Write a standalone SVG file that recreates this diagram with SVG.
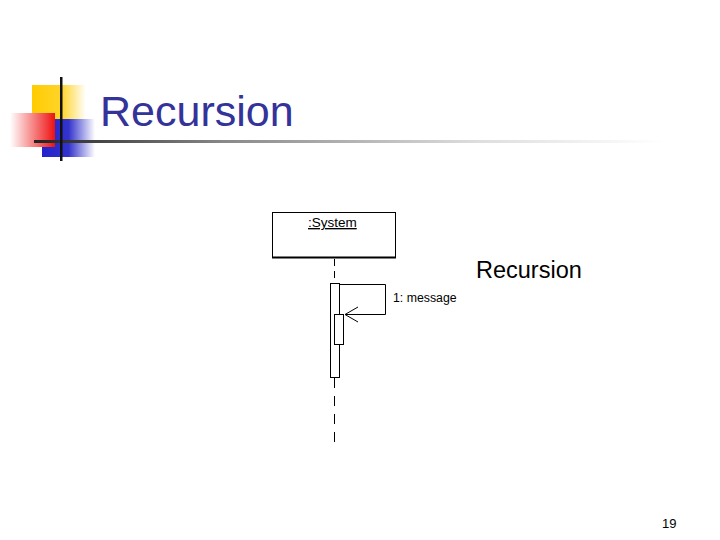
<svg xmlns="http://www.w3.org/2000/svg" width="720" height="540" viewBox="0 0 720 540">
<defs>
<linearGradient id="gy" x1="0" x2="1" y1="0" y2="0"><stop offset="0" stop-color="#ffcc00"/><stop offset="0.55" stop-color="#ffd42a"/><stop offset="1" stop-color="#ffffff"/></linearGradient>
<linearGradient id="gr" x1="0" x2="1" y1="0" y2="0"><stop offset="0" stop-color="#ffffff"/><stop offset="1" stop-color="#ee1111"/></linearGradient>
<linearGradient id="gb" x1="0" x2="1" y1="0" y2="0"><stop offset="0" stop-color="#2222cc"/><stop offset="0.5" stop-color="#3333cc"/><stop offset="1" stop-color="#ffffff"/></linearGradient>
<linearGradient id="gl" x1="0" x2="1" y1="0" y2="0"><stop offset="0" stop-color="#222222"/><stop offset="0.3" stop-color="#888888"/><stop offset="0.7" stop-color="#dddddd"/><stop offset="1" stop-color="#ffffff"/></linearGradient>
<marker id="open" markerWidth="16" markerHeight="18" refX="14" refY="9" orient="auto" markerUnits="userSpaceOnUse"><path d="M1,1.5 L14,9 L1,16.5" fill="none" stroke="#000" stroke-width="1"/></marker>
<style>
.t{font-family:"Liberation Sans",Arial,sans-serif}
.box{fill:#fff;stroke:#000;stroke-width:1}
</style>
</defs>
<g id="decor">
<rect x="32" y="85" width="54" height="36" fill="url(#gy)"/>
<rect x="42" y="119" width="53" height="38" fill="url(#gb)"/>
<rect x="10" y="113" width="45" height="34" fill="url(#gr)"/>
<rect x="34" y="140" width="630" height="3" fill="url(#gl)"/>
<rect x="60" y="77" width="2.5" height="84" fill="#111"/>
</g>
<text class="t" x="100" y="126" font-size="43" fill="#333399">Recursion</text>
<g id="system">
<rect class="box" x="272.5" y="212.5" width="123" height="45"/>
<line x1="272" y1="257.5" x2="396" y2="257.5" stroke="#000" stroke-width="2"/>
<text class="t" x="308" y="227" font-size="13.5" text-decoration="underline">:System</text>
</g>
<g id="connectors">
<line x1="334.5" y1="259" x2="334.5" y2="283" stroke="#000" stroke-dasharray="7,5"/>
<line x1="334.5" y1="378" x2="334.5" y2="442" stroke="#000" stroke-dasharray="10,8"/>
<polyline points="340,284.5 385.5,284.5 385.5,314.5 345,314.5" fill="none" stroke="#000" marker-end="url(#open)"/>
</g>
<g id="activation">
<rect class="box" x="330.5" y="283.5" width="9" height="94"/>
<rect class="box" x="334.5" y="314.5" width="9" height="30"/>
</g>
<text class="t" x="393" y="302" font-size="12.3">1: message</text>
<text class="t" x="476" y="278" font-size="23.5">Recursion</text>
<text class="t" x="662" y="528" font-size="13">19</text>
</svg>
